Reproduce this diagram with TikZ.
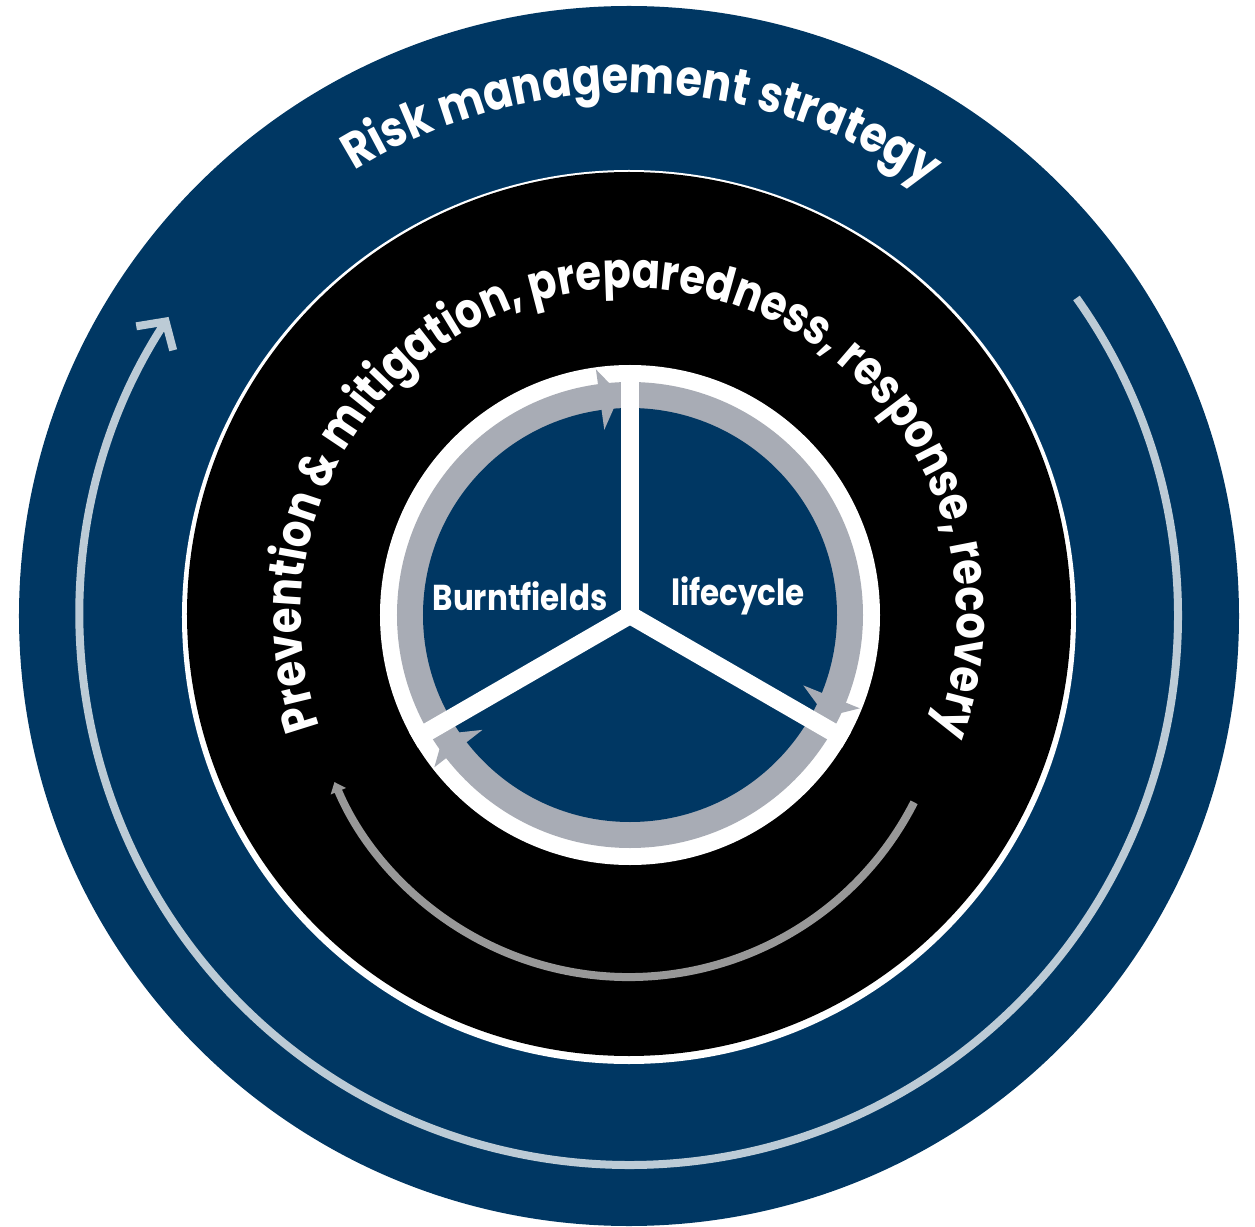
\documentclass[tikz,border=0pt]{standalone}
\usepackage{fontspec}
\newfontfamily\pop{Poppins}[FakeStretch=0.86]
\newfontfamily\popn{Poppins}[FakeStretch=0.85]
\usetikzlibrary{decorations.text,arrows.meta}
\definecolor{navy}{RGB}{0,55,99}
\definecolor{ringgrey}{RGB}{168,172,181}
\definecolor{lightarc}{RGB}{188,203,214}
\definecolor{midgrey}{RGB}{152,152,152}
\tikzset{
  spoke/.style={white,line width=18pt},
  wheelarrow/.style={fill=ringgrey},
  label/.style={text=white,font=\pop\bfseries\fontsize{36}{40}\selectfont,inner sep=0pt}
}
\begin{document}
\begin{tikzpicture}[x=1pt,y=1pt]
\useasboundingbox (-629,-610) rectangle (626,616);
% outer navy disc
\fill[navy] (0,0) circle (610pt);
% light outer arrow
\draw[lightarc,line width=8pt,-{Straight Barb[length=20pt,width=44pt]}]
  (35.4:549pt) arc[start angle=35.4,end angle=-213,radius=549pt];
% black ring
\fill[white] (0,-1) circle (447pt);
\fill[black] (0,2) circle (442pt);
% grey arrow in the black ring
\draw[midgrey,line width=8pt,-{Triangle[length=10pt,width=16pt]},shift={(0,-41)}]
  (-27:320pt) arc[start angle=-27,end angle=-157,radius=320pt];
% inner wheel
\begin{scope}[shift={(1,1)}]
  \fill[white] (0,0) circle (250pt);
  \fill[ringgrey] (0,0) circle (233pt);
  \fill[navy] (0,0) circle (207pt);
  \foreach \a in {0,120,240}{
    \fill[wheelarrow,rotate=-\a] (92.6:221pt) -- (97.9:248pt) -- (97.9:187pt) -- cycle;
  }
  \foreach \a in {0,120,240}{
    \draw[spoke,rotate=-\a] (0,0) -- (90:250pt);
  }
  \fill[white] (0,0) circle (9pt);
\end{scope}
% centre labels
\node[label] (bf) at (-109,20) {Burntfields};
\node[label] (lc) at (109,20) {lifecycle};
% text on arcs
\path[decorate,decoration={text along path,text align=center,text color=white,
  text={|\popn\bfseries\fontsize{49}{57}\selectfont|Prevention {\&} mitigation, preparedness, response, recovery}}]
  (224.5:328pt) arc[start angle=224.5,end angle=-45.5,radius=328pt];
\path[decorate,decoration={text along path,text align=center,text color=white,
  text={|\pop\bfseries\fontsize{50}{60}\selectfont|Risk management strategy}}]
  (138.5:523pt) arc[start angle=138.5,end angle=38.5,radius=523pt];
\end{tikzpicture}
\end{document}
